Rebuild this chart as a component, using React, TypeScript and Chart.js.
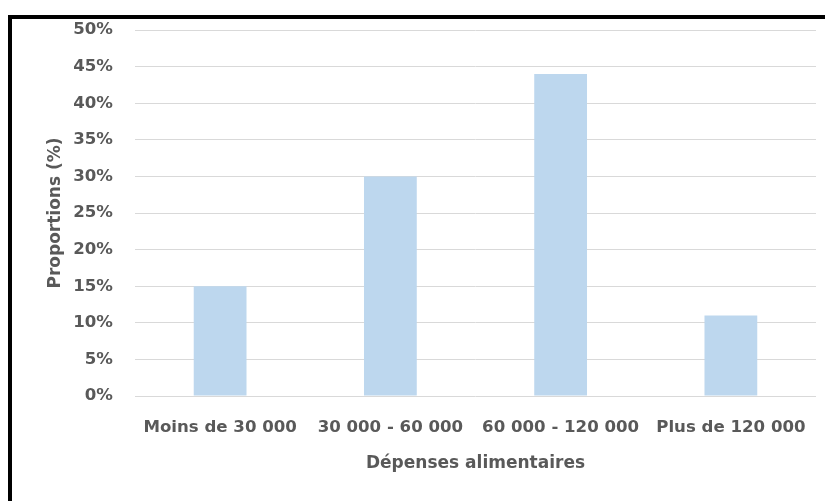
import React, { useEffect, useRef } from "react";
import { Chart, registerables } from "chart.js";

Chart.register(...registerables);

const categories = ["Moins de 30 000", "30 000 - 60 000", "60 000 - 120 000", "Plus de 120 000"];
const values = [15, 30, 44, 11];
const yTitle = "Proportions (%)";
const xTitle = "Dépenses alimentaires";

const FONT = "'DejaVu Sans'";
const TICK_SIZE = 16.6;
const TITLE_SIZE = 17;

export default function App() {
  const ref = useRef<HTMLCanvasElement | null>(null);
  useEffect(() => {
    if (!ref.current) return;
    const chart = new Chart(ref.current, {
      type: "bar",
      data: {
        labels: categories,
        datasets: [
          {
            data: values,
            backgroundColor: "#BDD7EE",
            borderWidth: 0,
            categoryPercentage: 0.62,
            barPercentage: 0.5,
          },
        ],
      },
      options: {
        animation: false,
        responsive: false,
        maintainAspectRatio: false,
        layout: { padding: { left: 0, right: 9, top: 0, bottom: 0 } },
        plugins: { legend: { display: false }, tooltip: { enabled: false } },
        scales: {
          x: {
            grid: { display: false },
            border: { display: false },
            ticks: {
              color: "#595959",
              font: { family: FONT, size: TICK_SIZE, weight: "bold" },
              padding: 14,
              maxRotation: 0,
              autoSkip: false,
            },
            title: {
              display: true,
              text: xTitle,
              color: "#595959",
              font: { family: FONT, size: TITLE_SIZE, weight: "bold" },
              padding: { top: 0, bottom: 27 },
            },
            afterFit: (s: any) => {
              s.height = 105;
            },
          },
          y: {
            min: 0,
            max: 50,
            grid: { color: "#D9D9D9", lineWidth: 1, drawTicks: false },
            border: { display: false },
            ticks: {
              stepSize: 5,
              color: "#595959",
              font: { family: FONT, size: TICK_SIZE, weight: "bold" },
              padding: 22,
              callback: (v: any) => v + "%",
            },
            title: {
              display: true,
              text: yTitle,
              color: "#595959",
              font: { family: FONT, size: TITLE_SIZE, weight: "bold" },
              padding: { top: 33, bottom: 0 },
            },
            afterFit: (s: any) => {
              s.width = 123;
              s.paddingTop = 11;
              s.paddingBottom = 0;
            },
          },
        },
      },
    });
    return () => chart.destroy();
  }, []);
  return (
    <div
      style={{
        position: "absolute",
        left: 8,
        top: 15,
        width: 900,
        height: 600,
        borderLeft: "4px solid #000",
        borderTop: "4px solid #000",
        background: "#fff",
      }}
    >
      <canvas ref={ref} width={813} height={482} style={{ display: "block", width: 813, height: 482 }} />
    </div>
  );
}
